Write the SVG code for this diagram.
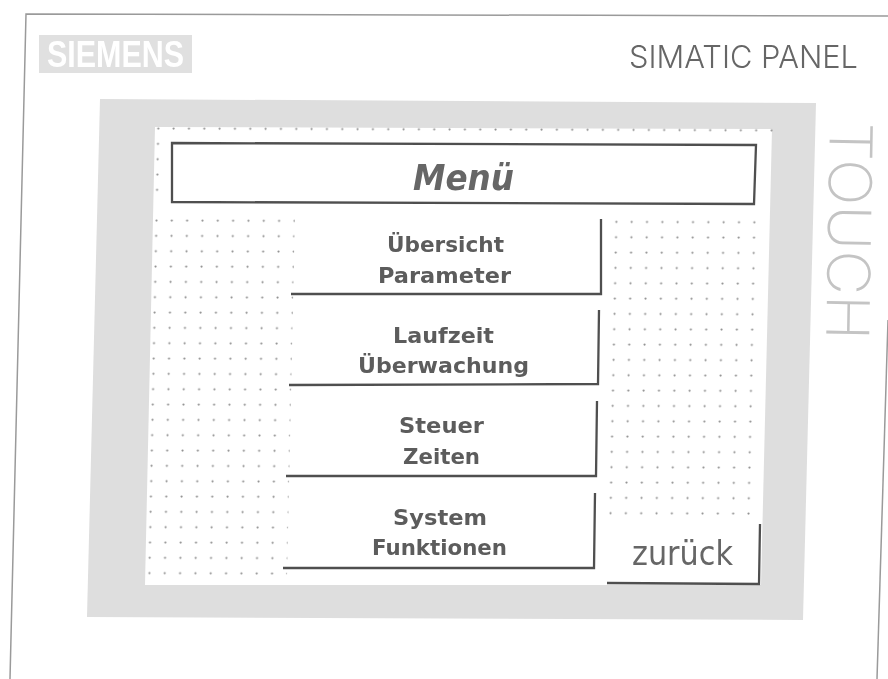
<svg xmlns="http://www.w3.org/2000/svg" width="888" height="679" viewBox="0 0 888 679">
<style>
.btn{font-family:"DejaVu Sans",sans-serif;font-weight:bold;font-size:22px;fill:#5c5c5c}
.edge{fill:none;stroke:#505050;stroke-width:2.3}
.outer{fill:none;stroke:#9a9a9a;stroke-width:1.5}
</style>
<defs>
<pattern id="dots" width="15.33" height="15.33" patternUnits="userSpaceOnUse" patternTransform="matrix(1 0.003 -0.02 1 155 219)">
<rect x="0" y="0" width="15.33" height="15.33" fill="none"/>
<circle cx="1.5" cy="1.5" r="1.1" fill="#909090"/>
</pattern>
<filter id="soft" x="-5%" y="-5%" width="110%" height="110%"><feGaussianBlur stdDeviation="0.55"/></filter>
</defs>
<rect width="888" height="679" fill="#fff"/>
<g filter="url(#soft)">
<g id="casing">
<path class="outer" d="M888 16 L26 14 L10 679"/>
<path class="outer" d="M888 320 L877 679"/>
</g>
<g id="logo">
<polygon points="39,35 192,35 192,73 39,73" fill="#e0e0e0"/>
<text x="47" y="67" font-family="'Liberation Sans',Arial,sans-serif" font-weight="bold" font-size="36" fill="#fff" textLength="137" lengthAdjust="spacingAndGlyphs">SIEMENS</text>
</g>
<text id="brand" x="629" y="68" font-family="Inter,'Liberation Sans',Arial,sans-serif" font-weight="300" font-size="31" fill="#666" textLength="229" lengthAdjust="spacingAndGlyphs">SIMATIC PANEL</text>
<text id="touch" transform="translate(830 122) rotate(91)" font-family="Inter,'Liberation Sans',Arial,sans-serif" font-weight="200" font-size="59" fill="#c4c4c4" textLength="218" lengthAdjust="spacingAndGlyphs">TOUCH</text>
<g id="screen">
<polygon points="100,99 816,103 803,620 87,617" fill="#dedede"/>
<polygon points="155,127 772,129 761,585 145,585" fill="#fff"/>
<polygon points="150,123 776,125 776,132 150,131" fill="url(#dots)"/>
<polygon points="151,134 162,134 162,196 151,196" fill="url(#dots)"/>
<polygon points="146,213 295,213 287,576 142,576" fill="url(#dots)"/>
<polygon points="608,213 758,213 751,516 602,516" fill="url(#dots)"/>
</g>
<g id="title">
<polygon class="edge" points="172,143 756,145 754,204 172,202" fill="#fff"/>
<text x="413" y="190" font-family="'DejaVu Sans',sans-serif" font-weight="bold" font-style="italic" font-size="36" fill="#666" textLength="101" lengthAdjust="spacingAndGlyphs">Menü</text>
</g>
<g id="btn-uebersicht">
<text class="btn" x="387" y="252" textLength="117" lengthAdjust="spacingAndGlyphs">Übersicht</text>
<text class="btn" x="378" y="283" textLength="133" lengthAdjust="spacingAndGlyphs">Parameter</text>
</g>
<g id="btn-laufzeit">
<text class="btn" x="393" y="343" textLength="101" lengthAdjust="spacingAndGlyphs">Laufzeit</text>
<text class="btn" x="358" y="373" textLength="171" lengthAdjust="spacingAndGlyphs">Überwachung</text>
</g>
<g id="btn-steuer">
<text class="btn" x="399" y="433" textLength="85" lengthAdjust="spacingAndGlyphs">Steuer</text>
<text class="btn" x="403" y="464" textLength="77" lengthAdjust="spacingAndGlyphs">Zeiten</text>
</g>
<g id="btn-system">
<text class="btn" x="393" y="525" textLength="94" lengthAdjust="spacingAndGlyphs">System</text>
<text class="btn" x="372" y="555" textLength="135" lengthAdjust="spacingAndGlyphs">Funktionen</text>
</g>
<g id="btn-zurueck">
<text x="632" y="565" font-family="'DejaVu Sans',sans-serif" font-size="33" fill="#666" textLength="101" lengthAdjust="spacingAndGlyphs">zurück</text>
</g>
<g id="connectors">
<path class="edge" d="M291 294 L601 294 L601 219"/>
<path class="edge" d="M289 385 L598 384 L599 310"/>
<path class="edge" d="M286 476 L596 476 L597 401"/>
<path class="edge" d="M283 568 L594 568 L595 493"/>
<path class="edge" d="M607 583 L759 584 L760 524"/>
</g>
</g>
</svg>
